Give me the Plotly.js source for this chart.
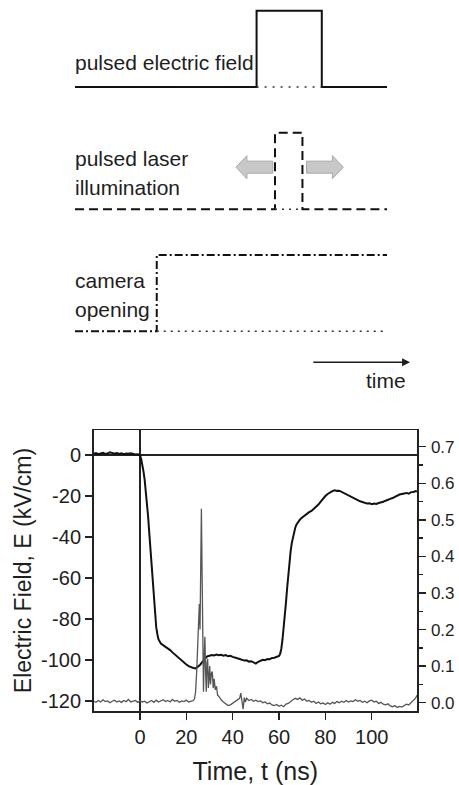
<!DOCTYPE html>
<html><head><meta charset="utf-8">
<script src="https://cdn.plot.ly/plotly-3.0.1.min.js"></script>
<style>html,body{margin:0;padding:0;background:#fff}#chart{width:459px;height:785px}</style>
</head><body><div id="chart"></div>
<script>
// ---------------- main chart data ----------------
const timeE = [-20,-19,-18,-17,-16,-15,-14,-13,-12,-11,-10,-9,-8,-7,-6,-5,-4,-3,-2,-1,0,
  0.5,1,1.5,2,2.5,3,3.5,4,4.5,5,5.5,6,6.5,7,7.5,8,9,10,11,12,13,14,15,16,17,18,19,20,21,22,23,24,
  25,26,27,28,29,30,31,32,33,34,35,36,37,38,39,40,41,42,43,44,45,46,47,48,49,50,51,52,53,54,55,56,57,58,59,60,
  60.5,61,61.5,62,62.5,63,63.5,64,64.5,65,65.5,66,66.5,67,67.5,68,69,70,71,72,73,74,75,76,77,78,79,80,
  81,82,83,84,85,86,87,88,89,90,91,92,93,94,95,96,97,98,99,100,101,102,103,104,105,106,107,108,109,110,
  111,112,113,114,115,116,117,118,119,119.5];
const fieldE = [0.6,0.9,0.4,0.8,1.1,0.5,0.7,1.3,0.9,0.6,1.0,0.5,0.8,0.4,0.7,0.6,0.9,0.5,0.3,0.4,0.0,
  -2,-4.5,-8,-12,-17,-23,-30,-38,-46,-55,-63,-71,-78,-84,-87.5,-90,-92,-92.8,-93.3,-94.3,-95.2,-96.3,-97.3,-98.2,-99.5,-100.6,-101.4,-102.2,-103.0,-103.5,-103.9,-104.1,
  -103.2,-102.3,-100.8,-99.3,-98.2,-97.9,-97.6,-97.8,-97.4,-97.7,-97.5,-97.9,-97.6,-98.2,-98.0,-98.5,-98.7,-99.2,-99.5,-99.8,-100.3,-100.2,-100.8,-100.6,-101.3,-101.8,-100.9,-100.4,-99.9,-100.1,-99.5,-99.6,-99.0,-98.9,-98.5,-98.0,
  -97,-94.5,-90,-85,-79,-72,-65,-58,-52,-47,-43,-40,-37.5,-35.5,-34,-33,-31.5,-30.5,-29.5,-28.8,-27.9,-27.3,-26.4,-25.4,-24.2,-22.8,-21.3,-20.0,
  -19.0,-18.2,-17.6,-17.2,-17.5,-17.4,-18.0,-18.6,-19.2,-19.6,-20.4,-20.9,-21.6,-21.9,-22.6,-22.9,-23.4,-23.7,-23.5,-24.0,-23.7,-23.9,-23.4,-23.2,-22.8,-22.3,-22.0,-21.4,-21.0,-20.3,
  -20.0,-19.3,-19.0,-18.8,-18.5,-18.9,-18.1,-18.0,-17.6,-17.9];

const timeS = [-20,-19,-18,-17,-16,-15,-14,-13,-12,-11,-10,-9,-8,-7,-6,-5,-4,-3,-2,-1,0,1,2,3,4,5,6,7,8,9,10,11,12,13,14,15,16,17,18,19,20,21,22,23,
  23.5,24,24.5,25,25.3,25.6,25.9,26.2,26.5,26.8,27.1,27.4,27.7,28,28.3,28.6,28.9,29.2,29.5,29.8,30.1,30.4,30.8,31.2,31.6,32,32.5,33,33.5,34,
  35,36,37,38,39,40,41,42,43,43.5,44,44.5,45,45.5,46,47,48,49,50,51,52,53,54,55,56,57,58,59,60,61,62,63,64,65,66,67,68,69,70,
  71,72,73,74,75,76,77,78,79,80,81,82,83,84,85,86,87,88,89,90,91,92,93,94,95,96,97,98,99,100,101,102,103,104,105,106,107,108,109,110,
  111,112,113,114,115,116,117,118,119,119.5];
const signalS = [0.004,0.001,0.006,0.002,0.008,0.003,0.005,0.000,0.004,0.007,0.002,0.005,0.001,0.006,0.003,0.009,0.002,0.004,0.006,0.001,0.005,0.002,0.004,-0.001,0.003,0.006,0.001,0.007,0.002,0.005,0.008,0.003,0.006,0.002,0.009,0.004,0.006,0.001,0.005,0.003,0.007,0.002,0.004,0.006,
  0.010,0.030,0.090,0.160,0.230,0.270,0.200,0.320,0.530,0.350,0.050,0.030,0.120,0.180,0.090,0.030,0.110,0.120,0.040,0.090,0.100,0.050,0.080,0.085,0.040,0.065,0.035,0.045,0.020,0.018,
  0.008,0.002,-0.004,-0.008,-0.006,-0.002,0.002,0.006,0.012,0.026,0.008,-0.018,0.014,0.002,0.012,0.006,0.009,0.004,0.007,0.003,0.005,0.000,0.002,-0.003,-0.001,-0.006,-0.008,-0.005,-0.010,-0.007,-0.011,-0.004,-0.002,0.004,0.008,0.012,0.009,0.013,0.007,
  0.010,0.004,0.006,0.001,0.004,-0.002,0.002,-0.003,-0.001,-0.005,0.000,-0.004,0.001,-0.002,0.003,0.000,0.004,0.001,0.006,0.002,0.005,0.003,0.008,0.004,0.006,0.001,0.004,0.000,0.005,0.007,0.002,0.004,-0.002,0.001,-0.004,-0.006,-0.003,-0.009,-0.011,-0.008,
  -0.013,-0.010,-0.012,-0.007,-0.004,-0.006,0.001,0.008,0.013,0.020];

const xTickVals = [0,20,40,60,80,100];
const xTickText = ['0','20','40','60','80','100'];
const yTickVals = [0,-20,-40,-60,-80,-100,-120];
const yTickText = ['0','-20','-40','-60','-80','-100','-120'];

// ---------------- timing diagram data (arbitrary time units) ----------------
const diagStart = 0, diagEnd = 100;
const fieldPulse = [58.2, 79.1];
const laserPulse = [64.1, 72.9];
const cameraOpen = 26.2;
const rowField = 3.2, rowLaser = 1.6, rowCamera = 0;
const labelField = 'pulsed electric field';
const labelLaser = ['pulsed laser', 'illumination'];
const labelCamera = ['camera', 'opening'];
const labelTime = 'time';
const timeArrow = [75.9, 107.4];
const shiftArrows = [[63.4, 51.6], [74.2, 86.0]]; // [tail, tip]

const FONT = 'Liberation Sans, Arial, Helvetica, sans-serif';
const INK = '#1e1e1e';

function pulse(t0, t1, base) {
  return {x: [diagStart, t0, t0, t1, t1, diagEnd], y: [base, base, base + 1, base + 1, base, base]};
}
const fp = pulse(fieldPulse[0], fieldPulse[1], rowField);
const lp = pulse(laserPulse[0], laserPulse[1], rowLaser);

const dg = {xaxis: 'x2', yaxis: 'y3', mode: 'lines', hoverinfo: 'skip', showlegend: false};
const traces = [
  {x: timeE, y: fieldE, type: 'scatter', mode: 'lines', line: {color: '#111', width: 2}, xaxis: 'x', yaxis: 'y', name: 'E'},
  {x: timeS, y: signalS, type: 'scatter', mode: 'lines', line: {color: '#555', width: 1.3}, xaxis: 'x', yaxis: 'y2', name: 'signal'},
  Object.assign({x: fp.x, y: fp.y, line: {color: '#111', width: 2}}, dg),
  Object.assign({x: fieldPulse, y: [rowField, rowField], line: {color: '#333', width: 1.5, dash: '2px,6px'}}, dg),
  Object.assign({x: lp.x, y: lp.y, line: {color: '#111', width: 2, dash: '9px,5px'}}, dg),
  Object.assign({x: laserPulse, y: [rowLaser, rowLaser], line: {color: '#333', width: 1.5, dash: '2px,5px'}}, dg),
  Object.assign({x: [diagStart, cameraOpen, cameraOpen, diagEnd], y: [rowCamera, rowCamera, rowCamera + 1, rowCamera + 1], line: {color: '#111', width: 2, dash: '8px,3px,2px,3px'}}, dg),
  Object.assign({x: [cameraOpen, diagEnd], y: [rowCamera, rowCamera], line: {color: '#333', width: 1.5, dash: '2px,5px'}}, dg)
];

// gray shift arrows as shapes
const arrowY = rowLaser + 0.55, shaftH = 0.079, headH = 0.151, headL = 3.5;
const shapes = shiftArrows.map(([tail, tip]) => {
  const s = tip > tail ? 1 : -1;
  const hb = tip - s * headL;
  const p = `M ${tail} ${arrowY - shaftH} L ${hb} ${arrowY - shaftH} L ${hb} ${arrowY - headH} L ${tip} ${arrowY} L ${hb} ${arrowY + headH} L ${hb} ${arrowY + shaftH} L ${tail} ${arrowY + shaftH} Z`;
  return {type: 'path', xref: 'x2', yref: 'y3', path: p, fillcolor: '#c8c8c8', line: {color: '#a9a9a9', width: 1}};
});

function lab(text, x, y, xanchor) {
  return {text: text, x: x, y: y, xref: 'x2', yref: 'y3', xanchor: xanchor || 'left', yanchor: 'middle', showarrow: false, font: {family: FONT, size: 21, color: INK}};
}
const annotations = [
  lab(labelField, -0.8, 3.52),
  lab(labelLaser[0], -0.8, 2.27),
  lab(labelLaser[1], -0.8, 1.88),
  lab(labelCamera[0], -0.8, 0.66),
  lab(labelCamera[1], -0.8, 0.29),
  lab(labelTime, 99.7, -0.65, 'center'),
  {x: timeArrow[1], y: -0.407, ax: timeArrow[0], ay: -0.407, xref: 'x2', yref: 'y3', axref: 'x2', ayref: 'y3', text: '', showarrow: true, arrowhead: 2, arrowsize: 1, arrowwidth: 1.6, arrowcolor: INK}
];

const axLine = {showline: true, linecolor: '#222', linewidth: 1.5, ticks: 'outside', ticklen: 7, tickwidth: 1.5, tickcolor: '#222', showgrid: false, automargin: false};

const layout = {
  width: 459, height: 785,
  margin: {l: 0, r: 0, t: 0, b: 74},
  paper_bgcolor: '#fff', plot_bgcolor: 'rgba(0,0,0,0)',
  showlegend: false,
  font: {family: FONT, color: INK},
  xaxis: Object.assign({}, axLine, {domain: [93.5 / 459, 417 / 459], anchor: 'y', range: [-20.07, 119.55], mirror: true,
    tickmode: 'array', tickvals: xTickVals, ticktext: xTickText, tickfont: {size: 20, family: FONT, color: INK},
    zeroline: true, zerolinecolor: '#222', zerolinewidth: 1.5,
    title: {text: 'Time, t (ns)', font: {size: 25, family: FONT, color: INK}, standoff: 22}}),
  yaxis: Object.assign({}, axLine, {domain: [0, (711 - 430) / 711], anchor: 'x', range: [-124.9, 12.2],
    tickmode: 'array', tickvals: yTickVals, ticktext: yTickText, tickfont: {size: 20, family: FONT, color: INK},
    zeroline: true, zerolinecolor: '#222', zerolinewidth: 1.5,
    title: {text: 'Electric Field, E (kV/cm)', font: {size: 23, family: FONT, color: INK}, standoff: 3}}),
  yaxis2: Object.assign({}, axLine, {overlaying: 'y', side: 'right', anchor: 'x', range: [-0.0227, 0.7457],
    tickmode: 'linear', tick0: 0, dtick: 0.1, tickformat: '.1f', tickfont: {size: 17, family: FONT, color: INK},
    ticklabelstandoff: 2, zeroline: false,
    minor: {tickmode: 'linear', tick0: 0, dtick: 0.05, ticks: 'outside', ticklen: 4, tickwidth: 1.5, tickcolor: '#222'}}),
  xaxis2: {domain: [0, 1], anchor: 'y3', range: [-24.04, 123.08], visible: false, fixedrange: true},
  yaxis3: {domain: [0.4, 1], anchor: 'x2', range: [-1.25, 4.341], visible: false, fixedrange: true},
  shapes: shapes,
  annotations: annotations
};

Plotly.newPlot('chart', traces, layout, {staticPlot: true, displayModeBar: false});
</script>
</body></html>
